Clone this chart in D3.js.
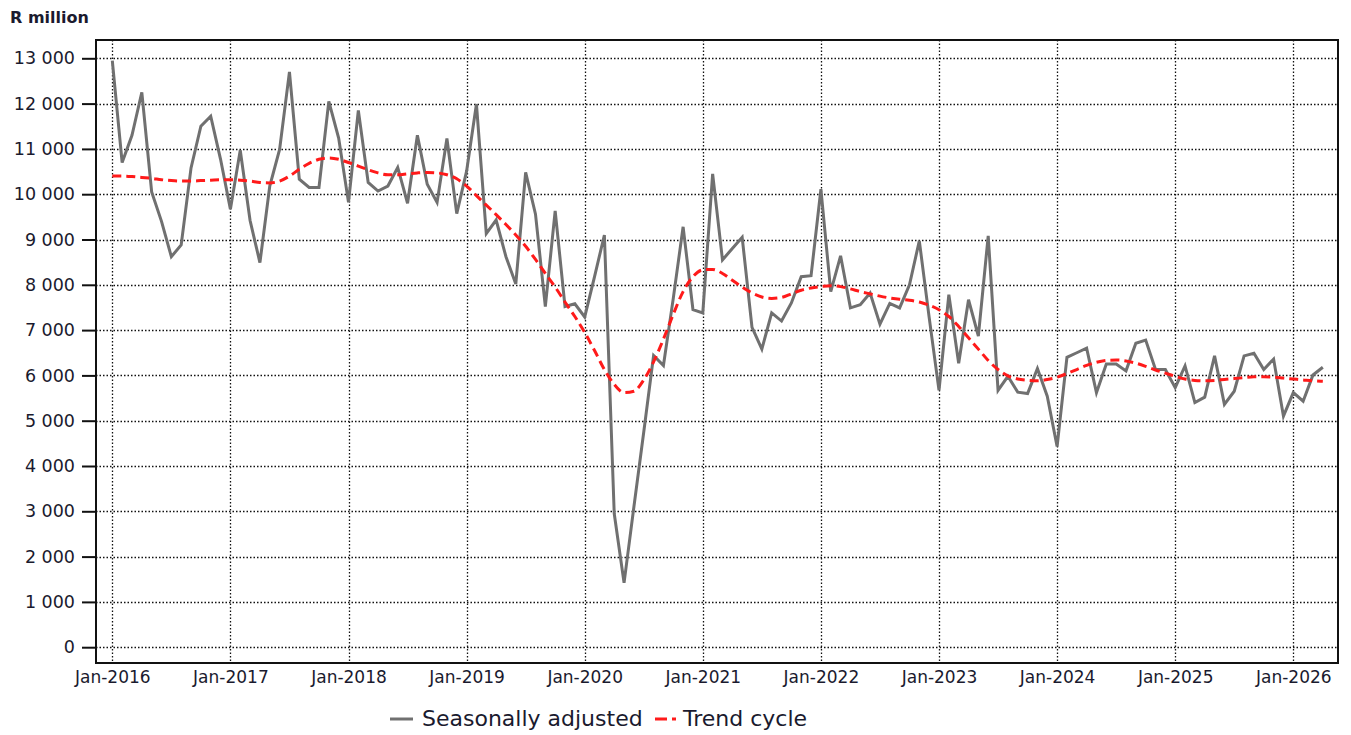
<!DOCTYPE html>
<html>
<head>
<meta charset="utf-8">
<script src="https://cdn.jsdelivr.net/npm/d3@7"></script>
<style>
  html, body { margin: 0; padding: 0; background: #fff; }
  svg { display: block; }
</style>
</head>
<body>
<div id="chart"></div>
<script>
// ---------------- DATA ----------------
const startYear = 2016;
const yTicks = [0, 1000, 2000, 3000, 4000, 5000, 6000, 7000, 8000, 9000, 10000, 11000, 12000, 13000];
const xTickYears = [2016, 2017, 2018, 2019, 2020, 2021, 2022, 2023, 2024, 2025, 2026];
const seriesNames = ["Seasonally adjusted", "Trend cycle"];
const yAxisTitle = "R million";

// Monthly values Jan-2016 .. Apr-2026
const seasonallyAdjusted = [
  12950, 10700, 11300, 12250, 10050, 9400, 8620, 8880, 10580, 11500, 11720, 10770,
  9670, 10970, 9420, 8490, 10180, 10990, 12700, 10330, 10150, 10150, 12050, 11240,
  9820, 11850, 10260, 10070, 10180, 10590, 9800, 11300, 10220, 9820, 11230, 9570,
  10510, 11990, 9130, 9430, 8620, 8020, 10480, 9560, 7520, 9630, 7520, 7580,
  7290, 8180, 9100, 2950, 1420, 3100, 4750, 6440, 6220, 7700, 9280, 7450,
  7380, 10450, 8550, 8800, 9050, 7060, 6580, 7380, 7200, 7600, 8180, 8200,
  10110, 7850, 8640, 7490, 7560, 7820, 7130, 7590, 7490, 8000, 8970, 7280,
  5670, 7780, 6270, 7670, 6870, 9080, 5670, 5980, 5630, 5600, 6150, 5540,
  4430, 6400, 6500, 6600, 5620, 6250, 6250, 6100, 6710, 6780, 6130, 6130,
  5730, 6210, 5400, 5520, 6430, 5360, 5650, 6430, 6490, 6130, 6360, 5100,
  5620, 5430, 6010, 6180
];
const trendCycle = [
  10400, 10400, 10390, 10370, 10350, 10320, 10300, 10290, 10290, 10300, 10310, 10320,
  10320, 10310, 10290, 10260, 10250, 10290, 10400, 10550, 10680, 10770, 10800, 10770,
  10700, 10620, 10540, 10470, 10430, 10430, 10450, 10470, 10480, 10470, 10430, 10340,
  10180, 9970, 9760, 9550, 9330, 9100, 8850, 8560, 8250, 7950, 7620, 7300,
  6950, 6550, 6130, 5800, 5620, 5650, 5900, 6300, 6800, 7350, 7850, 8180,
  8330, 8340, 8250, 8100, 7950, 7820, 7730, 7700, 7720, 7800, 7880, 7930,
  7960, 7980, 7960, 7910, 7850, 7800, 7750, 7710, 7680, 7660, 7620, 7550,
  7450, 7300, 7080, 6830, 6580, 6330, 6130, 5990, 5920, 5890, 5880, 5910,
  5960, 6040, 6130, 6220, 6290, 6330, 6340, 6320, 6270, 6200, 6120, 6050,
  5980, 5920, 5890, 5880, 5890, 5910, 5930, 5950, 5970, 5970, 5960, 5940,
  5920, 5900, 5880, 5870
];

// ---------------- LAYOUT ----------------
const W = 1351, H = 735;
const frame = { left: 96, right: 1338, top: 40, bottom: 663 };

const svg = d3.select("#chart").append("svg")
  .attr("width", W).attr("height", H)
  .style("font-family", "'DejaVu Sans', Verdana, sans-serif");

const x = d3.scaleLinear().domain([0, 120]).range([112.3, 1293.3]);
const y = d3.scaleLinear().domain([0, 13000]).range([647.2, 58.3]);

const fmt = v => d3.format(",")(v).replace(/,/g, " ");

// gridlines
const grid = svg.append("g");
grid.selectAll("line.h").data(yTicks).join("line")
  .attr("x1", frame.left).attr("x2", frame.right)
  .attr("y1", d => Math.round(y(d)) + 0.5).attr("y2", d => Math.round(y(d)) + 0.5)
  .attr("stroke", "#111").attr("stroke-width", 1.3).attr("stroke-dasharray", "1.5,2");
grid.selectAll("line.v").data(xTickYears).join("line")
  .attr("x1", d => Math.round(x((d - startYear) * 12)) + 0.5)
  .attr("x2", d => Math.round(x((d - startYear) * 12)) + 0.5)
  .attr("y1", frame.top).attr("y2", frame.bottom)
  .attr("stroke", "#111").attr("stroke-width", 1.3).attr("stroke-dasharray", "1.5,2");

// y axis (ticks outside the frame)
const yAxis = d3.axisLeft(y).tickValues(yTicks).tickSize(14).tickPadding(7).tickFormat(fmt);
const gy = svg.append("g").attr("transform", `translate(${frame.left},0)`).call(yAxis);
gy.select(".domain").remove();
gy.selectAll(".tick line").attr("stroke", "#111").attr("stroke-width", 2);
gy.selectAll(".tick text").attr("font-size", "17.5px").attr("fill", "#1a1a2e")
  .attr("font-family", "'DejaVu Sans', Verdana, sans-serif");

// x axis labels
const xAxis = d3.axisBottom(x)
  .tickValues(xTickYears.map(yr => (yr - startYear) * 12))
  .tickSize(0).tickPadding(8)
  .tickFormat(d => "Jan-" + (startYear + d / 12));
const gx = svg.append("g").attr("transform", `translate(0,${frame.bottom})`).call(xAxis);
gx.select(".domain").remove();
gx.selectAll(".tick text").attr("font-size", "17px").attr("fill", "#1a1a2e")
  .attr("font-family", "'DejaVu Sans', Verdana, sans-serif");

// lines
const line = d3.line().x((d, i) => x(i)).y(d => y(d));
svg.append("path").datum(seasonallyAdjusted)
  .attr("d", line).attr("fill", "none")
  .attr("stroke", "#707070").attr("stroke-width", 3).attr("stroke-linejoin", "miter");
const tline = d3.line().x((d, i) => x(i)).y(d => y(d)).curve(d3.curveMonotoneX);
svg.append("path").datum(trendCycle)
  .attr("d", tline).attr("fill", "none")
  .attr("stroke", "#ff1a1a").attr("stroke-width", 3).attr("stroke-dasharray", "9,5");

// frame
svg.append("rect")
  .attr("x", frame.left).attr("y", frame.top)
  .attr("width", frame.right - frame.left).attr("height", frame.bottom - frame.top)
  .attr("fill", "none").attr("stroke", "#111").attr("stroke-width", 2);

// y axis title
svg.append("text").attr("x", 10).attr("y", 23)
  .attr("font-size", "16px").attr("font-weight", "bold").attr("fill", "#1a1a2e")
  .text(yAxisTitle);

// legend
const leg = svg.append("g");
leg.append("line").attr("x1", 390).attr("x2", 413).attr("y1", 719).attr("y2", 719)
  .attr("stroke", "#707070").attr("stroke-width", 3);
leg.append("text").attr("x", 422).attr("y", 726).attr("font-size", "22px").attr("fill", "#1a1a2e")
  .text(seriesNames[0]);
leg.append("line").attr("x1", 655).attr("x2", 676).attr("y1", 719).attr("y2", 719)
  .attr("stroke", "#ff1a1a").attr("stroke-width", 3).attr("stroke-dasharray", "12,5");
leg.append("text").attr("x", 683).attr("y", 726).attr("font-size", "22px").attr("fill", "#1a1a2e")
  .text(seriesNames[1]);
</script>
</body>
</html>
